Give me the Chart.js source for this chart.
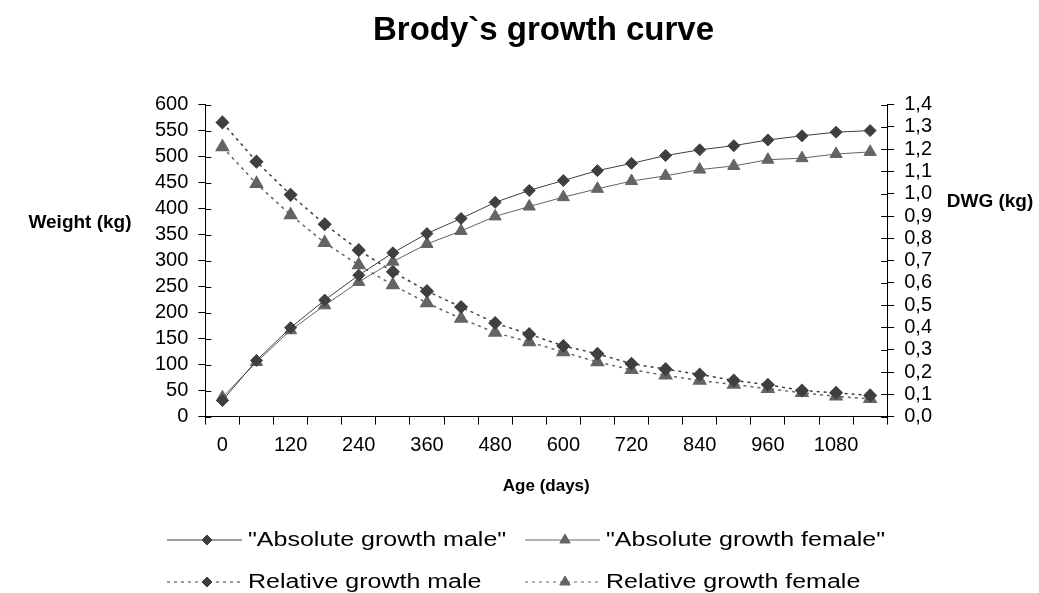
<!DOCTYPE html>
<html>
<head>
<meta charset="utf-8">
<script src="https://cdn.jsdelivr.net/npm/chart.js@4/dist/chart.umd.min.js"></script>
<style>
  html, body { margin: 0; padding: 0; background: #fff; }
  #wrap { width: 1039px; height: 593px; }
</style>
</head>
<body>
<div id="wrap"><canvas id="growth"></canvas></div>
<script>
var ages = [0, 60, 120, 180, 240, 300, 360, 420, 480, 540, 600, 660, 720, 780, 840, 900, 960, 1020, 1080, 1140];
var absMale = [31, 108, 171, 224, 272, 315, 352, 381, 412, 435, 454, 473, 487, 502, 513, 521, 532, 540, 547, 550];
var absFemale = [37, 105, 166, 214, 259, 298, 332, 357, 385, 404, 422, 438, 453, 463, 475, 482, 494, 497, 505, 509];
var relMale = [1.32, 1.144, 0.995, 0.863, 0.747, 0.65, 0.563, 0.492, 0.42, 0.37, 0.317, 0.282, 0.237, 0.213, 0.189, 0.162, 0.143, 0.117, 0.107, 0.095];
var relFemale = [1.21, 1.045, 0.905, 0.78, 0.68, 0.59, 0.51, 0.44, 0.377, 0.335, 0.29, 0.245, 0.21, 0.185, 0.162, 0.144, 0.125, 0.107, 0.091, 0.08];

var seriesLabels = ['"Absolute growth male"', '"Absolute growth female"', 'Relative growth male', 'Relative growth female'];

var dark = '#3f3f3f';
var grey = '#646464';
var fontFamily = 'Arial, "Liberation Sans", sans-serif';

// axis titles drawn flat (not rotated), inner half of the y ticks, and the 2x2 legend
var extras = {
    id: 'extras',
    afterDraw: function (chart) {
        var c = chart.ctx;
        c.save();
        c.fillStyle = '#000';
        c.textAlign = 'center';
        c.textBaseline = 'middle';
        c.font = 'bold 19px ' + fontFamily;
        c.fillText('Weight (kg)', 80, 223);
        c.fillText('DWG (kg)', 990, 202);

        c.strokeStyle = '#000';
        c.lineWidth = 1;
        c.beginPath();
        ['y', 'y1'].forEach(function (id) {
            var sc = chart.scales[id];
            var ax = id === 'y' ? sc.right : sc.left;
            var dir = id === 'y' ? 1 : -1;
            sc.ticks.forEach(function (t) {
                var py = Math.round(sc.getPixelForValue(t.value)) + 0.5;
                c.moveTo(ax, py);
                c.lineTo(ax + dir * 6, py);
            });
        });
        c.stroke();

        var colX = [167, 525];
        var rowY = [540, 582];
        chart.data.datasets.forEach(function (ds, i) {
            var x0 = colX[i % 2];
            var y = rowY[Math.floor(i / 2)];
            c.save();
            c.strokeStyle = ds.borderColor;
            c.lineWidth = 1;
            c.setLineDash(ds.borderDash || []);
            c.beginPath();
            c.moveTo(x0, y);
            c.lineTo(x0 + 75, y);
            c.stroke();
            c.restore();
            c.fillStyle = ds.pointBackgroundColor;
            c.strokeStyle = ds.pointBorderColor;
            Chart.helpers.drawPoint(c, {
                pointStyle: ds.pointStyle,
                radius: ds.pointStyle === 'triangle' ? 6 : 5,
                rotation: 0,
                borderWidth: 1
            }, x0 + 40, y);
            c.save();
            c.fillStyle = '#000';
            c.textAlign = 'left';
            c.font = '20px ' + fontFamily;
            c.translate(x0 + 81, y);
            c.scale(1.25, 1);
            c.fillText(ds.label, 0, 0);
            c.restore();
        });
        c.restore();
    }
};

var ctx = document.getElementById('growth').getContext('2d');
var growthChart = new Chart(ctx, {
    type: 'line',
    data: {
        labels: ages,
        datasets: [{
            label: seriesLabels[0],
            data: absMale,
            yAxisID: 'y',
            borderColor: dark,
            borderWidth: 1,
            pointStyle: 'rectRot',
            pointRadius: 6,
            pointBackgroundColor: dark,
            pointBorderColor: dark
        }, {
            label: seriesLabels[1],
            data: absFemale,
            yAxisID: 'y',
            borderColor: grey,
            borderWidth: 1,
            pointStyle: 'triangle',
            pointRadius: 7,
            pointBackgroundColor: grey,
            pointBorderColor: grey
        }, {
            label: seriesLabels[2],
            data: relMale,
            yAxisID: 'y1',
            borderColor: dark,
            borderWidth: 1.5,
            borderDash: [3, 4],
            pointStyle: 'rectRot',
            pointRadius: 6,
            pointBackgroundColor: dark,
            pointBorderColor: dark
        }, {
            label: seriesLabels[3],
            data: relFemale,
            yAxisID: 'y1',
            borderColor: grey,
            borderWidth: 1.5,
            borderDash: [3, 4],
            pointStyle: 'triangle',
            pointRadius: 7,
            pointBackgroundColor: grey,
            pointBorderColor: grey
        }]
    },
    options: {
        responsive: true,
        maintainAspectRatio: false,
        animation: false,
        layout: {
            padding: { left: 145, right: 97, top: 0, bottom: 96 }
        },
        plugins: {
            legend: { display: false },
            tooltip: { enabled: false },
            title: {
                display: true,
                text: 'Brody`s growth curve',
                color: '#000',
                font: { family: fontFamily, size: 33, weight: 'bold' },
                padding: { top: 11, bottom: 54 }
            }
        },
        scales: {
            x: {
                type: 'category',
                offset: true,
                grid: { offset: true, drawOnChartArea: false, tickLength: 8, color: '#000' },
                border: { color: '#000' },
                ticks: {
                    autoSkip: false,
                    maxRotation: 0,
                    padding: 9,
                    color: '#000',
                    font: { family: fontFamily, size: 20 },
                    callback: function (val, i) {
                        return i % 2 === 0 ? this.getLabelForValue(val) : '';
                    }
                },
                title: {
                    display: true,
                    text: 'Age (days)',
                    color: '#000',
                    font: { family: fontFamily, size: 17, weight: 'bold' },
                    padding: { top: 10, bottom: 0 }
                }
            },
            y: {
                position: 'left',
                min: 0,
                max: 600,
                ticks: {
                    stepSize: 50,
                    autoSkip: false,
                    padding: 10,
                    color: '#000',
                    font: { family: fontFamily, size: 20 }
                },
                grid: { drawOnChartArea: false, tickLength: 7, color: '#000' },
                border: { color: '#000' }
            },
            y1: {
                position: 'right',
                min: 0,
                max: 1.4,
                ticks: {
                    stepSize: 0.1,
                    autoSkip: false,
                    padding: 10,
                    color: '#000',
                    font: { family: fontFamily, size: 20 },
                    callback: function (v) { return v.toFixed(1).replace('.', ','); }
                },
                grid: { drawOnChartArea: false, tickLength: 7, color: '#000' },
                border: { color: '#000' }
            }
        }
    },
    plugins: [extras]
});
</script>
</body>
</html>
